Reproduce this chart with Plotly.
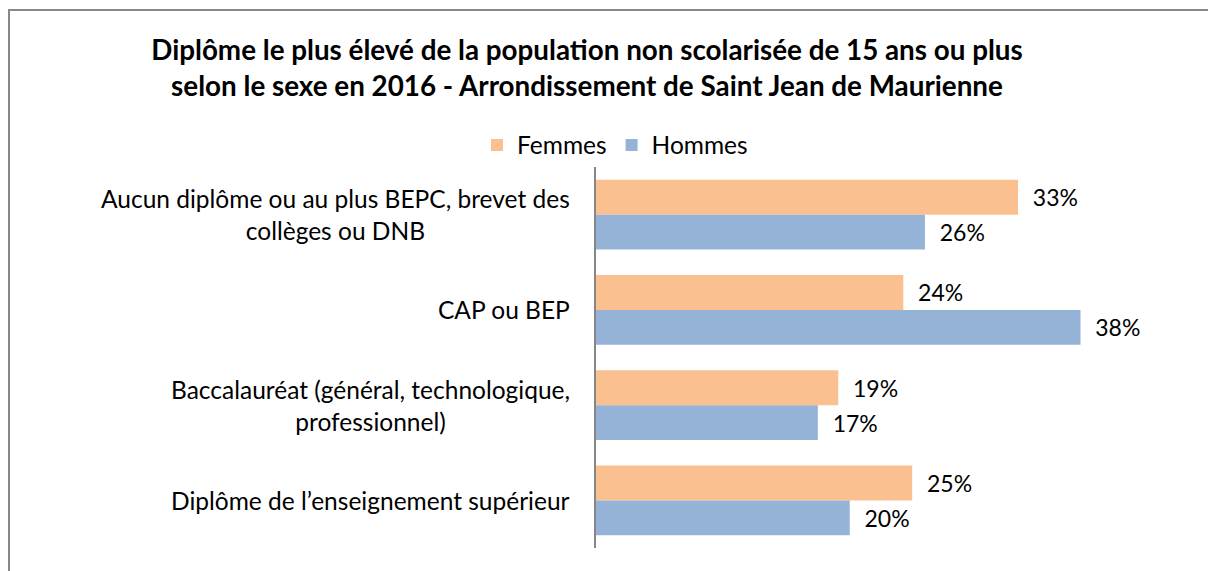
import plotly.graph_objects as go

categories = [
    "Aucun diplôme ou au plus BEPC, brevet des<br>collèges ou DNB",
    "CAP ou BEP",
    "Baccalauréat (général, technologique,<br>professionnel)",
    "Diplôme de l’enseignement supérieur",
]
femmes = [33.1, 24.1, 19.0, 24.8]
hommes = [25.8, 38.0, 17.4, 19.9]
series_names = ["Femmes", "Hommes"]
title_text = ("Diplôme le plus élevé de la population non scolarisée de 15 ans ou plus<br>"
              "selon le sexe en 2016 - Arrondissement de Saint Jean de Maurienne")

FONT = "Lato"
W, H = 1208, 571
L, R, T, B = 596, 102, 167, 23
pw = W - L - R
ph = H - T - B

fig = go.Figure()
for name, vals, col in [(series_names[0], femmes, "#FAC090"), (series_names[1], hommes, "#95B3D7")]:
    fig.add_trace(go.Bar(
        y=categories, x=vals, name=name, orientation="h",
        marker=dict(color=col, line=dict(width=0)),
        texttemplate="\u00a0\u00a0%{x:.0f}%", textposition="outside",
        textfont=dict(family=FONT, size=23, color="#000000"), cliponaxis=False,
    ))

for c in categories:
    fig.add_annotation(x=0, y=c, xref="x", yref="y", text=c, showarrow=False,
                       xanchor="right", yanchor="middle", align="center", xshift=-24,
                       font=dict(family=FONT, size=24.5, color="#000000"))

fig.add_shape(type="rect", xref="paper", yref="paper",
              x0=(9 - L) / pw, x1=(W + 5 - L) / pw,
              y0=-(B + 5) / ph, y1=(H - B - 10) / ph,
              line=dict(color="#888888", width=2), fillcolor="rgba(0,0,0,0)", layer="below")

fig.update_layout(
    width=W, height=H,
    margin=dict(l=L, r=R, t=T, b=B, autoexpand=False),
    paper_bgcolor="white", plot_bgcolor="white",
    barmode="group", bargap=0.27, bargroupgap=0,
    title=dict(text=title_text, x=587 / W, xref="container", xanchor="center",
               y=1 - 60 / H, yref="container", yanchor="top",
               font=dict(family=FONT, size=27.8, color="#000000", weight="bold")),
    legend=dict(orientation="h", x=(615 - L) / pw, xref="paper", xanchor="center",
                y=(H - B - 145) / ph, yref="paper", yanchor="middle",
                font=dict(family=FONT, size=24.5, color="#000000"),
                itemsizing="constant", bgcolor="rgba(0,0,0,0)"),
    xaxis=dict(range=[0, 40], showgrid=False, zeroline=False, showticklabels=False,
               showline=False, ticks=""),
    yaxis=dict(autorange="reversed", showticklabels=False, showgrid=False, zeroline=False,
               showline=True, linecolor="#868686", linewidth=2, ticks=""),
    font=dict(family=FONT),
    showlegend=True,
)

fig.write_html("out.html", config={"displayModeBar": False},
               post_script="document.body.style.margin='0';")
